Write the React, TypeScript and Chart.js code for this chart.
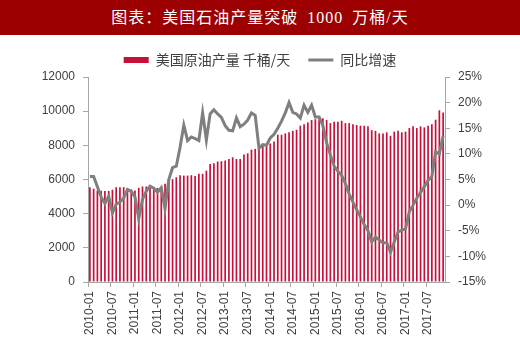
import { useEffect, useRef } from 'react';
import { Chart, registerables } from 'chart.js';

Chart.register(...registerables);

const titleText = '图表：美国石油产量突破 1000 万桶/天';
const seriesNames = ['美国原油产量 千桶/天', '同比增速'];

const categories = [
  '2010-01','2010-02','2010-03','2010-04','2010-05','2010-06','2010-07','2010-08','2010-09','2010-10','2010-11','2010-12',
  '2011-01','2011-02','2011-03','2011-04','2011-05','2011-06','2011-07','2011-08','2011-09','2011-10','2011-11','2011-12',
  '2012-01','2012-02','2012-03','2012-04','2012-05','2012-06','2012-07','2012-08','2012-09','2012-10','2012-11','2012-12',
  '2013-01','2013-02','2013-03','2013-04','2013-05','2013-06','2013-07','2013-08','2013-09','2013-10','2013-11','2013-12',
  '2014-01','2014-02','2014-03','2014-04','2014-05','2014-06','2014-07','2014-08','2014-09','2014-10','2014-11','2014-12',
  '2015-01','2015-02','2015-03','2015-04','2015-05','2015-06','2015-07','2015-08','2015-09','2015-10','2015-11','2015-12',
  '2016-01','2016-02','2016-03','2016-04','2016-05','2016-06','2016-07','2016-08','2016-09','2016-10','2016-11','2016-12',
  '2017-01','2017-02','2017-03','2017-04','2017-05','2017-06','2017-07','2017-08','2017-09','2017-10','2017-11',
];

// 美国原油产量 千桶/天
const production = [
  5550, 5460, 5360, 5340, 5330, 5330, 5400, 5550, 5550, 5550, 5510, 5420,
  5360, 5510, 5590, 5590, 5600, 5550, 5510, 5510, 5750, 5940, 6020, 6130,
  6250, 6230, 6230, 6250, 6210, 6330, 6330, 6520, 6910, 6950, 7050, 7070,
  7110, 7200, 7300, 7200, 7200, 7460, 7530, 7750, 7790, 7880, 7980, 8040,
  8110, 8230, 8620, 8620, 8700, 8760, 8850, 8910, 9150, 9240, 9340, 9480,
  9530, 9530, 9590, 9480, 9300, 9380, 9380, 9440, 9300, 9300, 9240, 9190,
  9150, 9150, 9110, 8890, 8850, 8700, 8700, 8760, 8560, 8800, 8850, 8760,
  8800, 9010, 9110, 9010, 9110, 9050, 9150, 9240, 9500, 10050, 9920,
];

// 同比增速 %
const growth = [
  5.6, 5.6, 3.6, 1.6, 0.3, 1.7, -1.5, 0.2, 0.6, 1.4, 3.0, 2.7,
  1.6, -2.6, 1.1, 2.7, 3.7, 3.3, 2.5, 3.4, -0.7, 5.0, 7.3, 7.6,
  11.3, 15.6, 12.6, 13.3, 13.0, 12.6, 18.0, 12.7, 17.8, 18.6, 17.8, 17.1,
  15.5, 14.6, 14.5, 17.0, 15.3, 15.8, 16.6, 18.0, 17.5, 11.1, 11.8, 11.7,
  13.1, 13.8, 15.0, 16.4, 18.0, 20.0, 18.1, 17.8, 17.0, 19.5, 18.1, 19.5,
  17.2, 17.2, 15.5, 12.2, 9.8, 7.6, 6.6, 5.8, 4.2, 2.2, 0.6, -0.9,
  -2.3, -3.8, -5.0, -7.2, -6.2, -6.8, -7.4, -7.3, -9.2, -7.2, -5.2, -4.9,
  -4.6, -1.3, 0.0, 1.4, 2.5, 3.6, 4.8, 5.6, 10.4, 10.0, 13.5,
];

const leftAxis = { min: 0, max: 12000, step: 2000 };
const rightAxis = { min: -15, max: 25, step: 5 };
const labelEvery = 6;

const BAR_COLOR = '#C70F3A';
const LINE_COLOR = '#7F7F7F';
const AXIS_COLOR = '#A6A6A6';
const TEXT_COLOR = '#404040';
const TICK_FONT = { family: '"Liberation Sans", Arial, sans-serif', size: 12 };

export default function App() {
  const canvasRef = useRef<HTMLCanvasElement>(null);

  useEffect(() => {
    const canvas = canvasRef.current;
    if (!canvas) return;
    const chart = new Chart(canvas, {
      type: 'bar',
      data: {
        labels: categories,
        datasets: [
          {
            type: 'bar',
            label: seriesNames[0],
            data: production,
            yAxisID: 'y',
            backgroundColor: BAR_COLOR,
            borderWidth: 0,
            barPercentage: 0.45,
            categoryPercentage: 1,
            pointStyle: 'rect',
            order: 1,
          } as any,
          {
            type: 'line',
            label: seriesNames[1],
            data: growth,
            yAxisID: 'y1',
            borderColor: LINE_COLOR,
            backgroundColor: LINE_COLOR,
            borderWidth: 3,
            pointRadius: 0,
            pointHoverRadius: 0,
            tension: 0,
            pointStyle: 'line',
            order: 0,
          } as any,
        ],
      },
      options: {
        responsive: true,
        maintainAspectRatio: false,
        animation: false,
        layout: { padding: { top: 35, left: 0, right: 0, bottom: 0 } },
        plugins: {
          tooltip: { enabled: false },
          title: { display: false },
          legend: {
            display: true,
            position: 'top',
            labels: {
              usePointStyle: true,
              pointStyleWidth: 25,
              boxWidth: 25,
              boxHeight: 6,
              padding: 18,
              color: TEXT_COLOR,
              font: { family: '"Noto Sans CJK SC", sans-serif', size: 14 },
              sort: (a: any, b: any) => a.datasetIndex - b.datasetIndex,
            },
          },
        },
        scales: {
          x: {
            type: 'category',
            offset: true,
            grid: {
              display: true,
              drawOnChartArea: false,
              drawTicks: true,
              tickLength: 5,
              offset: true,
              tickColor: (ctx: any) => (ctx.index % labelEvery === 0 ? AXIS_COLOR : 'rgba(0,0,0,0)'),
            },
            border: { display: true, color: AXIS_COLOR, width: 1 },
            ticks: {
              autoSkip: false,
              minRotation: 90,
              maxRotation: 90,
              padding: 4,
              color: TEXT_COLOR,
              font: TICK_FONT,
              callback: (_v: any, i: number) => (i % labelEvery === 0 ? categories[i] : ''),
            },
            afterFit: (s: any) => { s.height = 72; },
          },
          y: {
            type: 'linear',
            position: 'left',
            min: leftAxis.min,
            max: leftAxis.max,
            grid: {
              display: true,
              drawOnChartArea: false,
              drawTicks: true,
              tickLength: 5,
              tickColor: AXIS_COLOR,
            },
            border: { display: true, color: AXIS_COLOR, width: 1 },
            ticks: {
              stepSize: leftAxis.step,
              padding: 8,
              color: TEXT_COLOR,
              font: TICK_FONT,
              callback: (v: any) => String(v),
            },
            afterFit: (s: any) => { s.width = 88; },
          },
          y1: {
            type: 'linear',
            position: 'right',
            min: rightAxis.min,
            max: rightAxis.max,
            grid: {
              display: true,
              drawOnChartArea: false,
              drawTicks: true,
              tickLength: 5,
              tickColor: AXIS_COLOR,
            },
            border: { display: true, color: AXIS_COLOR, width: 1 },
            ticks: {
              stepSize: rightAxis.step,
              padding: 8,
              color: TEXT_COLOR,
              font: TICK_FONT,
              callback: (v: any) => `${v}%`,
            },
            afterFit: (s: any) => { s.width = 75; },
          },
        },
      },
    });
    return () => chart.destroy();
  }, []);

  return (
    <div style={{ position: 'absolute', left: 0, top: 0, width: 520, height: 354, background: '#ffffff', overflow: 'hidden' }}>
      <div style={{ position: 'absolute', left: 0, top: 0, width: 520, height: 354 }}>
        <canvas ref={canvasRef} />
      </div>
      <div
        style={{
          position: 'absolute',
          left: 0,
          top: 0,
          width: 520,
          height: 35,
          background: '#9C0000',
          color: '#ffffff',
          fontFamily: '"Liberation Serif", "Noto Sans CJK SC", serif',
          fontSize: 16,
          lineHeight: '35px',
          textAlign: 'center',
          letterSpacing: 1,
          wordSpacing: 4,
          whiteSpace: 'pre',
        }}
      >
        {titleText}
      </div>
    </div>
  );
}
